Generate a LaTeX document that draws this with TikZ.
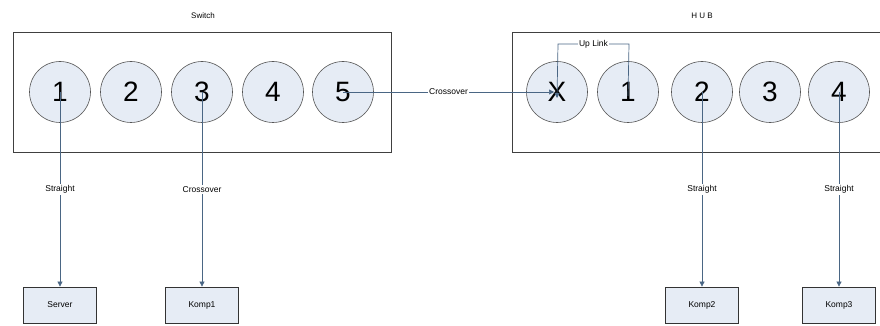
\documentclass[tikz,border=0pt]{standalone}
\usepackage{fontspec}
\setmainfont{Liberation Sans}
\usetikzlibrary{arrows.meta}
\definecolor{wire}{HTML}{4A6684}
\definecolor{portfill}{HTML}{E6ECF5}
\definecolor{edge}{HTML}{555555}
\tikzset{
  port/.style={circle, draw=edge, fill=portfill, line width=0.6pt, minimum size=61pt, inner sep=0pt, font=\fontsize{28}{28}\selectfont},
  host/.style={draw=black!80, fill=portfill, line width=0.8pt, minimum width=73pt, minimum height=36pt, inner sep=0pt, font=\fontsize{8.5}{10}\selectfont},
  cable/.style={draw=wire, line width=0.7pt},
  tip/.style={-{Triangle[length=5pt,width=5pt]}},
  cablelabel/.style={fill=white, inner sep=1.5pt, font=\fontsize{8.5}{10}\selectfont},
  title/.style={font=\fontsize{8}{10}\selectfont},
  frame/.style={draw=black!75, line width=0.9pt}
}
\begin{document}
\begin{tikzpicture}[x=1pt, y=-1pt]
\useasboundingbox (0,0) rectangle (880,326);

% device enclosures
\draw[frame] (13,32) rectangle (391,152);
\draw[frame] (881,32) -- (512,32) -- (512,152) -- (881,152);
\node[title] (swtitle) at (203,16) {Switch};
\node[title] (hubtitle) at (702,16) {H U B};

% switch ports
\node[port] (s1) at (60,92) {1};
\node[port] (s2) at (131,92) {2};
\node[port] (s3) at (202,92) {3};
\node[port] (s4) at (273,92) {4};
\node[port] (s5) at (343,92) {5};

% hub ports
\node[port] (hx) at (557,92) {X};
\node[port] (h1) at (628,92) {1};
\node[port] (h2) at (702,92) {2};
\node[port] (h3) at (770,92) {3};
\node[port] (h4) at (839,92) {4};

% end hosts
\node[host] (server) at (60,305) {Server};
\node[host] (komp1) at (202,305) {Komp1};
\node[host] (komp2) at (702,305) {Komp2};
\node[host] (komp3) at (839,305) {Komp3};

% cables
\draw[cable, tip] (s5.center) -- node[cablelabel, pos=0.5] {Crossover} ([xshift=-3pt]hx.center);
\coordinate (upl) at (558,44);
\coordinate (upr) at (629,44);
\draw[cable, tip] ([yshift=-4pt]h1.center) -- (upr) -- node[cablelabel, inner sep=1pt] {Up Link} (upl) -- ([yshift=-6pt]hx.center);

\draw[cable, tip] (s1.center) -- node[cablelabel, pos=0.5] {Straight} (server.north);
\draw[cable, tip] (s3.center) -- node[cablelabel, pos=0.5] {Crossover} (komp1.north);
\draw[cable, tip] (h2.center) -- node[cablelabel, pos=0.5] {Straight} (komp2.north);
\draw[cable, tip] (h4.center) -- node[cablelabel, pos=0.5] {Straight} (komp3.north);
\end{tikzpicture}
\end{document}
